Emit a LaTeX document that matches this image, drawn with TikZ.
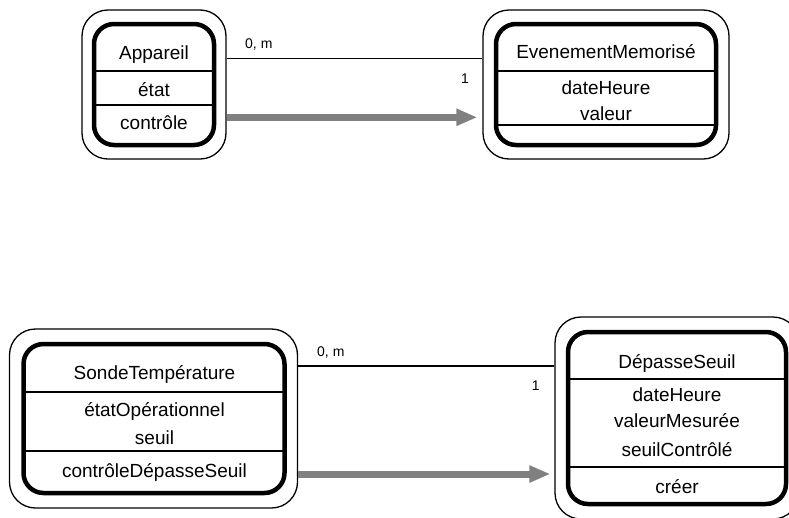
\documentclass[tikz,border=0pt]{standalone}
\usepackage{fontspec}
\setmainfont{Liberation Sans}
\usetikzlibrary{arrows.meta}
\definecolor{arrowgray}{HTML}{808080}
\tikzset{
  outerbox/.style={draw=black, line width=1.3pt, rounded corners=26pt, rectangle, inner sep=0pt},
  innerbox/.style={draw=black, line width=4.5pt, rounded corners=20pt, rectangle, inner sep=0pt},
  divider/.style={draw=black, line width=1.3pt},
  txt/.style={inner sep=0pt, anchor=base, font=\fontsize{19}{23}\selectfont},
  lbl/.style={inner sep=0pt, anchor=base, font=\fontsize{14}{17}\selectfont},
  assoc/.style={draw=black, line width=1.3pt},
  flow/.style={draw=arrowgray, line width=7pt, -{Triangle[length=21pt,width=16pt]}},
}
\begin{document}
\begin{tikzpicture}[x=1pt,y=-1pt]
\useasboundingbox (0,0) rectangle (789,517);
\clip (0,0) rectangle (789,517);

% ---- Appareil ----
\node[outerbox, minimum width=144pt, minimum height=149pt] (appO) at (154,84.5) {};
\node[innerbox, minimum width=120pt, minimum height=121pt] (appI) at (154,84.5) {};
\draw[divider] (94,71) -- (214,71);
\draw[divider] (94,105) -- (214,105);
\node[txt] (appN) at (154,59.5) {Appareil};
\node[txt] (appA) at (154,96) {état};
\node[txt] (appM) at (154,129) {contrôle};

% ---- EvenementMemorise ----
\node[outerbox, minimum width=246pt, minimum height=149pt] (evtO) at (606,84.5) {};
\node[innerbox, minimum width=220pt, minimum height=121pt] (evtI) at (606,84.5) {};
\draw[divider] (496,71) -- (716,71);
\draw[divider] (496,125) -- (716,125);
\node[txt] (evtN) at (606,58.5) {EvenementMemorisé};
\node[txt] (evtA1) at (606,94) {dateHeure};
\node[txt] (evtA2) at (606,120.5) {valeur};

% ---- SondeTemperature ----
\node[outerbox, minimum width=288pt, minimum height=179pt] (sonO) at (153.5,418.5) {};
\node[innerbox, minimum width=261pt, minimum height=149pt] (sonI) at (154,418.5) {};
\draw[divider] (24,392) -- (285,392);
\draw[divider] (24,451) -- (285,451);
\node[txt] (sonN) at (154.5,379) {SondeTempérature};
\node[txt] (sonA1) at (154.5,416.5) {étatOpérationnel};
\node[txt] (sonA2) at (154.5,444) {seuil};
\node[txt] (sonM) at (154.5,477.5) {contrôleDépasseSeuil};

% ---- DepasseSeuil ----
\node[outerbox, minimum width=244pt, minimum height=202pt] (depO) at (677,418) {};
\node[innerbox, minimum width=218pt, minimum height=172pt] (depI) at (677,418) {};
\draw[divider] (568,379) -- (786,379);
\draw[divider] (568,467) -- (786,467);
\node[txt] (depN) at (677,368) {DépasseSeuil};
\node[txt] (depA1) at (677,401.5) {dateHeure};
\node[txt] (depA2) at (677,427.5) {valeurMesurée};
\node[txt] (depA3) at (677,456.5) {seuilContrôlé};
\node[txt] (depM) at (677,493) {créer};

% ---- connectors top ----
\coordinate (topLine) at (0,58.3);
\coordinate (topArrow) at (0,117.3);
\draw[assoc] (appO.east |- topLine) -- (evtO.west |- topLine);
\draw[flow, shorten >=5pt] (appO.east |- topArrow) -- (evtO.west |- topArrow);
\node[lbl, anchor=base west] (l1) at (245,48.3) {0, m};
\node[lbl] (l2) at (465,83.3) {1};

% ---- connectors bottom ----
\coordinate (botLine) at (0,366);
\coordinate (botArrow) at (0,474);
\draw[assoc] (sonO.east |- botLine) -- (depO.west |- botLine);
\draw[flow, shorten >=4pt] (sonO.east |- botArrow) -- (depO.west |- botArrow);
\node[lbl, anchor=base west] (l3) at (317,356.7) {0, m};
\node[lbl] (l4) at (535.7,390.7) {1};
\end{tikzpicture}
\end{document}
